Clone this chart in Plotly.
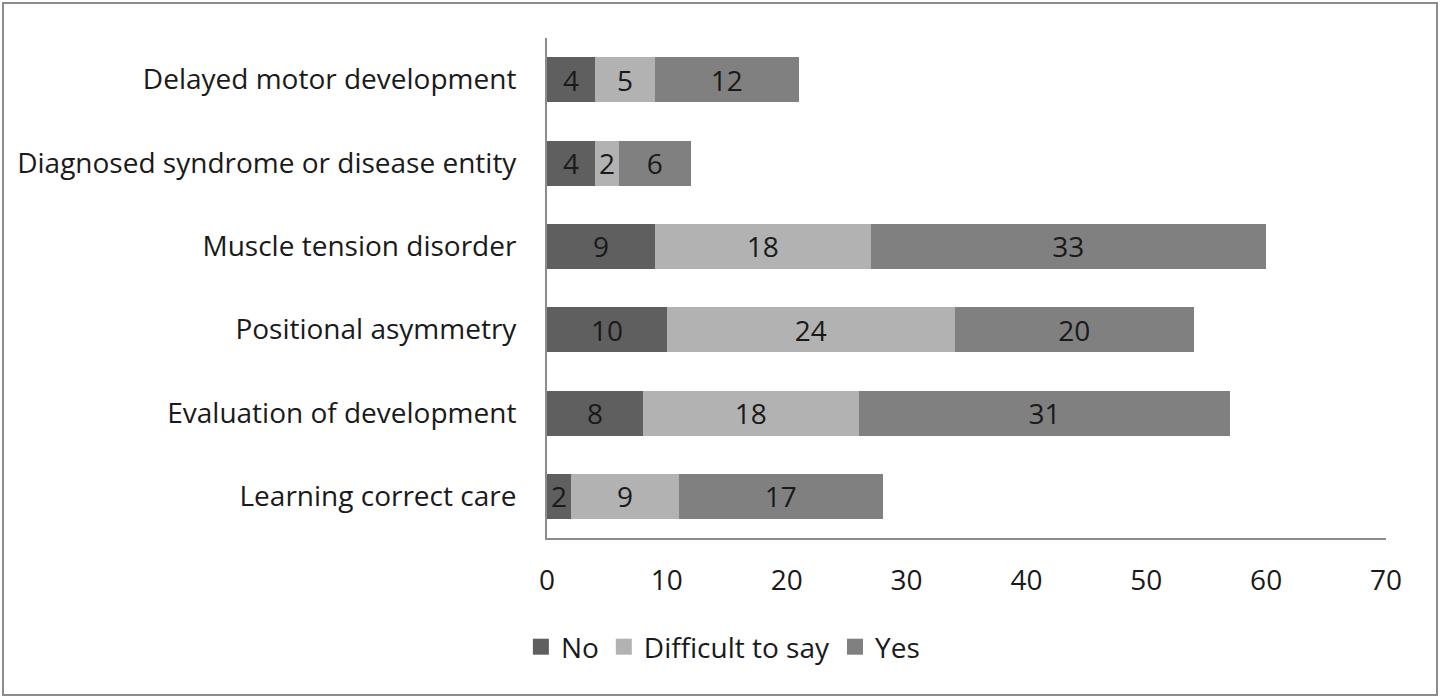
import plotly.graph_objects as go

categories = ["Delayed motor development", "Diagnosed syndrome or disease entity",
              "Muscle tension disorder", "Positional asymmetry",
              "Evaluation of development", "Learning correct care"]
no_vals = [4, 4, 9, 10, 8, 2]
difficult_vals = [5, 2, 18, 24, 18, 9]
yes_vals = [12, 6, 33, 20, 31, 17]
x_ticks = [0, 10, 20, 30, 40, 50, 60, 70]

series = [("No", no_vals, "#5f5f5f"),
          ("Difficult to say", difficult_vals, "#b2b2b2"),
          ("Yes", yes_vals, "#808080")]

FONT = "Open Sans, Lato, sans-serif"
FS = 28
fig = go.Figure()
for name, vals, color in series:
    fig.add_trace(go.Bar(
        y=categories, x=vals, name=name, orientation="h",
        marker=dict(color=color, line=dict(width=0)),
        text=[str(v) for v in vals], textposition="inside",
        insidetextanchor="middle", textangle=0,
        textfont=dict(color="#1a1a1a", size=FS, family=FONT),
        showlegend=False, legendgroup=name,
    ))
# legend entries with larger square swatches
for name, vals, color in series:
    fig.add_trace(go.Scatter(
        x=[None], y=[None], mode="markers", name=name, legendgroup=name,
        marker=dict(symbol="square", size=18, color=color, line=dict(width=0)),
        showlegend=True, hoverinfo="skip",
    ))

W, H = 1440, 698
L, R, T, B = 547, 54, 38, 160
pw, ph = W - L - R, H - T - B

def px2x(px):
    return (px - L) / pw

def py2y(py):
    return 1 - (py - T) / ph

fig.update_layout(
    width=W, height=H, barmode="stack", bargap=0.46,
    margin=dict(l=L, r=R, t=T, b=B),
    paper_bgcolor="white", plot_bgcolor="white",
    font=dict(family=FONT, color="#1a1a1a", size=FS),
    uniformtext=dict(minsize=FS, mode="show"),
    xaxis=dict(range=[0, 70], tickvals=x_ticks, showgrid=False, zeroline=False,
               showline=True, linecolor="#8c8c8c", linewidth=2, ticks="",
               ticklabelstandoff=16, tickfont=dict(size=FS, color="#1a1a1a")),
    yaxis=dict(categoryorder="array", categoryarray=categories, autorange="reversed",
               showgrid=False, zeroline=False, showline=True, linecolor="#8c8c8c",
               linewidth=2, ticks="", ticklabelstandoff=23,
               tickfont=dict(size=FS, color="#1a1a1a")),
    legend=dict(orientation="h", xref="container", yref="container",
                x=0.502, xanchor="center", y=1 - 647 / H, yanchor="middle",
                font=dict(size=FS, color="#1a1a1a"), traceorder="normal",
                itemwidth=30),
    showlegend=True,
    shapes=[dict(type="rect", xref="paper", yref="paper",
                 x0=px2x(3), x1=px2x(1437), y0=py2y(695), y1=py2y(3),
                 line=dict(color="#8c8c8c", width=2), fillcolor="rgba(0,0,0,0)",
                 layer="below")],
)

fig.write_html("out.html", config={"displayModeBar": False},
               post_script="document.body.style.margin='0';")
